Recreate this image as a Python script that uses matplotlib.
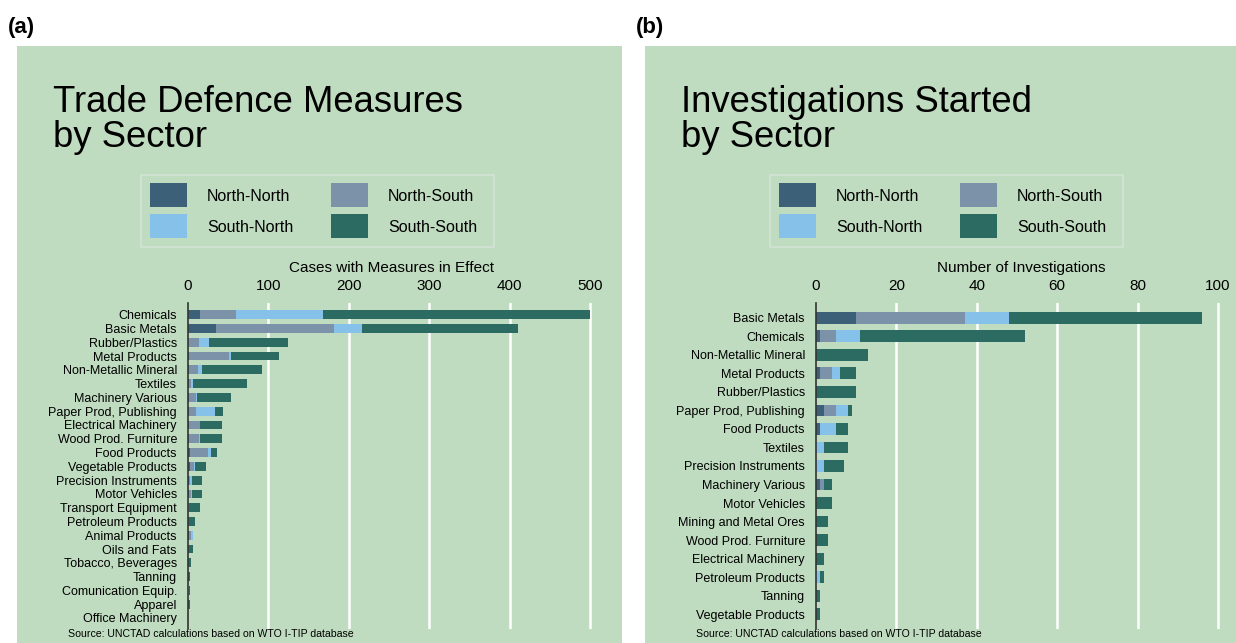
import matplotlib
matplotlib.use("Agg")
import matplotlib.pyplot as plt
from matplotlib.patches import Rectangle
import numpy as np

plt.rcParams['font.family'] = ['Liberation Sans', 'DejaVu Sans']

# ---------------- data ----------------
series_names = ["North-North", "North-South", "South-North", "South-South"]
series_colors = ["#3d6079", "#7b92a8", "#85c1e9", "#2c6b62"]

sectors_a = ["Chemicals", "Basic Metals", "Rubber/Plastics", "Metal Products",
             "Non-Metallic Mineral", "Textiles", "Machinery Various",
             "Paper Prod, Publishing", "Electrical Machinery", "Wood Prod. Furniture",
             "Food Products", "Vegetable Products", "Precision Instruments",
             "Motor Vehicles", "Transport Equipment", "Petroleum Products",
             "Animal Products", "Oils and Fats", "Tobacco, Beverages", "Tanning",
             "Comunication Equip.", "Apparel", "Office Machinery"]
nn_a = [15, 35, 0, 1, 1, 1, 1, 1, 1, 1, 3, 2, 1, 1, 0.5, 2, 1, 0, 0, 0.5, 0.5, 0, 0]
ns_a = [45, 147, 14, 50, 11, 3, 9, 9, 13.5, 12.5, 22, 6, 1, 3, 0.5, 1, 3, 0.5, 0, 0, 0, 0, 0]
sn_a = [108, 35, 12, 2, 6, 2, 1.5, 23, 1, 1, 3, 1, 2.5, 1, 0, 0, 2, 0, 0, 0, 0.5, 0, 0]
ss_a = [332, 194, 98, 60, 74, 67, 42, 11, 26.5, 27.5, 8.5, 14, 13.5, 12, 14, 6, 0, 6, 4, 2.5, 2, 2, 0.5]

sectors_b = ["Basic Metals", "Chemicals", "Non-Metallic Mineral", "Metal Products",
             "Rubber/Plastics", "Paper Prod, Publishing", "Food Products", "Textiles",
             "Precision Instruments", "Machinery Various", "Motor Vehicles",
             "Mining and Metal Ores", "Wood Prod. Furniture", "Electrical Machinery",
             "Petroleum Products", "Tanning", "Vegetable Products"]
nn_b = [10, 1, 0, 1, 0, 2, 1, 0, 0, 1, 0, 0, 0, 0, 0, 0, 0]
ns_b = [27, 4, 0, 3, 0, 3, 0, 0, 0, 1, 0, 0, 0, 0, 0, 0, 0]
sn_b = [11, 6, 0, 2, 0, 3, 4, 2, 2, 0, 0, 0, 0, 0, 1, 0, 0]
ss_b = [48, 41, 13, 4, 10, 1, 3, 6, 5, 2, 4, 3, 3, 2, 1, 1, 1]

ticks_a = [0, 100, 200, 300, 400, 500]
ticks_b = [0, 20, 40, 60, 80, 100]

title_a = "Trade Defence Measures\nby Sector"
title_b = "Investigations Started\nby Sector"
xlabel_a = "Cases with Measures in Effect"
xlabel_b = "Number of Investigations"
source = "Source: UNCTAD calculations based on WTO I-TIP database"

# ---------------- layout ----------------
W, H = 1236, 643
BG = "#c0dcc0"
fig = plt.figure(figsize=(W / 100, H / 100), dpi=100)
fig.patch.set_facecolor("white")


def fx(x):
    return x / W


def fy(y):
    return 1 - y / H


def add_rect(x0, y0, x1, y1, **kw):
    r = Rectangle((fx(x0), fy(y1)), fx(x1) - fx(x0), fy(y0) - fy(y1),
                  transform=fig.transFigure, **kw)
    fig.patches.append(r)
    return r


def panel(px0, px1, tag, title, ax_left, ax_right, xmax, cats, data, ticks,
          xlabel, ylim, legend_x):
    add_rect(px0, 46, px1, 643, facecolor=BG, edgecolor="none", zorder=-5)
    fig.text(fx(px0 - 9), fy(27), tag, fontsize=16, fontweight="bold",
             va="center", ha="left")
    fig.text(fx(px0 + 36), fy(85), title, fontsize=26.3, va="top", ha="left",
             linespacing=1.0)

    # legend (manual)
    lx = legend_x
    add_rect(lx, 175, lx + 353, 247, facecolor="none", edgecolor="#cfe2d2",
             lw=1.5, zorder=1)
    order = [(0, 0, 0), (1, 1, 0), (2, 0, 1), (3, 1, 1)]
    for idx, col, row in order:
        x0 = lx + 9 + col * 181
        y0 = 183 + row * 31
        add_rect(x0, y0, x0 + 37, y0 + 24, facecolor=series_colors[idx],
                 edgecolor="none", zorder=2)
        fig.text(fx(x0 + 57), fy(y0 + 13), series_names[idx], fontsize=11.5,
                 va="center", ha="left")

    ax = fig.add_axes([fx(ax_left), fy(629), fx(ax_right) - fx(ax_left),
                       fy(303) - fy(629)])
    ax.set_facecolor("none")
    y = np.arange(len(cats))
    left = np.zeros(len(cats))
    for vals, c, name in zip(data, series_colors, series_names):
        vals = np.array(vals, dtype=float)
        ax.barh(y, vals, left=left, height=0.64, color=c, label=name,
                edgecolor="none", zorder=3)
        left += vals
    ax.set_yticks(y)
    ax.set_yticklabels(cats, fontsize=9)
    ax.set_ylim(*ylim)
    ax.set_xlim(0, xmax)
    ax.set_xticks(ticks)
    ax.xaxis.tick_top()
    ax.xaxis.set_label_position("top")
    ax.tick_params(axis="x", length=0, labelsize=11, pad=7)
    ax.tick_params(axis="y", length=0, pad=8)
    ax.set_xlabel(xlabel, fontsize=11, labelpad=5)
    for s in ["top", "right", "bottom"]:
        ax.spines[s].set_visible(False)
    ax.spines["left"].set_color("#333333")
    ax.spines["left"].set_linewidth(1.2)
    ax.spines["left"].set_zorder(5)
    for t in ticks[1:]:
        ax.axvline(t, color="white", lw=1.8, zorder=1)
    fig.text(fx(px0 + 51), fy(634), source, fontsize=7.6, va="center", ha="left")
    return ax


panel(17, 622, "(a)", title_a, 188, 596, 507.5, sectors_a,
      [nn_a, ns_a, sn_a, ss_a], ticks_a, xlabel_a, (22.8, -0.85), 141)
panel(645, 1236, "(b)", title_b, 816, 1226, 102, sectors_b,
      [nn_b, ns_b, sn_b, ss_b], ticks_b, xlabel_b, (16.8, -0.8), 770)

fig.savefig("out.png", dpi=100, facecolor="white")
